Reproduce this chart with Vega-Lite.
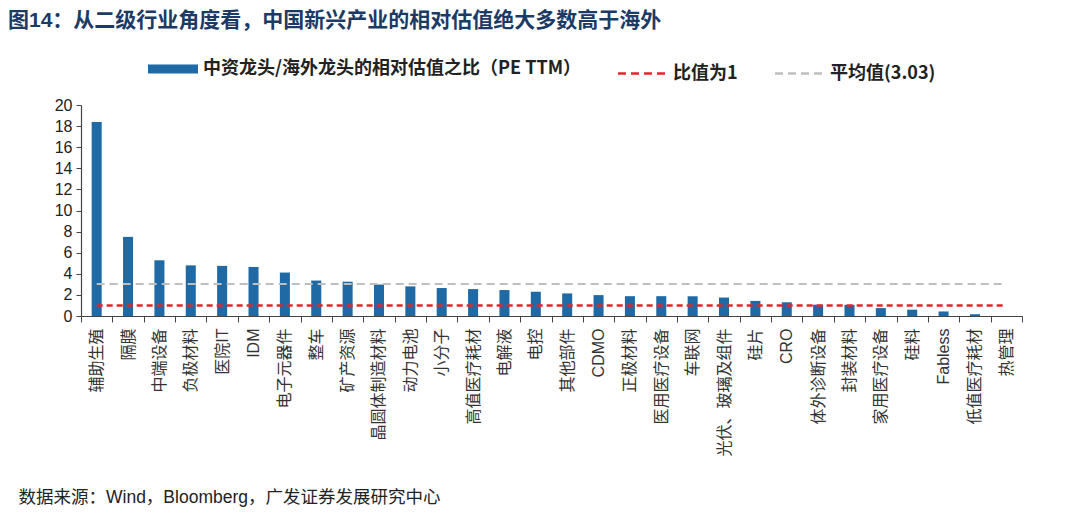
{
  "$schema": "https://vega.github.io/schema/vega-lite/v6.json",
  "width": 941,
  "height": 211,
  "autosize": {"type": "none"},
  "padding": {"left": 81, "top": 105, "right": 58, "bottom": 197},
  "background": "white",
  "config": {
    "view": {"stroke": null},
    "font": "Liberation Sans, Noto Sans CJK SC"
  },
  "title": {
    "text": "图14：从二级行业角度看，中国新兴产业的相对估值绝大多数高于海外",
    "anchor": "start",
    "frame": "group",
    "dx": -73,
    "offset": 29,
    "font": "Liberation Sans, Noto Sans CJK SC",
    "fontSize": 21,
    "fontWeight": "bold",
    "color": "#1b3a66"
  },
  "data": {
    "values": [
      {"cat": "辅助生殖", "v": 18.4},
      {"cat": "隔膜", "v": 7.5},
      {"cat": "中端设备", "v": 5.28},
      {"cat": "负极材料", "v": 4.8},
      {"cat": "医院IT", "v": 4.75},
      {"cat": "IDM", "v": 4.65},
      {"cat": "电子元器件", "v": 4.12},
      {"cat": "整车", "v": 3.36},
      {"cat": "矿产资源", "v": 3.25},
      {"cat": "晶圆体制造材料", "v": 2.98},
      {"cat": "动力电池", "v": 2.81},
      {"cat": "小分子", "v": 2.65},
      {"cat": "高值医疗耗材", "v": 2.55},
      {"cat": "电解液", "v": 2.46},
      {"cat": "电控", "v": 2.3},
      {"cat": "其他部件", "v": 2.14},
      {"cat": "CDMO", "v": 1.98},
      {"cat": "正极材料", "v": 1.88},
      {"cat": "医用医疗设备", "v": 1.88},
      {"cat": "车联网", "v": 1.87},
      {"cat": "光伏、玻璃及组件", "v": 1.75},
      {"cat": "硅片", "v": 1.43},
      {"cat": "CRO", "v": 1.3},
      {"cat": "体外诊断设备", "v": 1.07},
      {"cat": "封装材料", "v": 1.06},
      {"cat": "家用医疗设备", "v": 0.75},
      {"cat": "硅料", "v": 0.6},
      {"cat": "Fabless", "v": 0.43},
      {"cat": "低值医疗耗材", "v": 0.17},
      {"cat": "热管理", "v": 0}
    ]
  },
  "encoding": {
    "x": {
      "field": "cat",
      "type": "nominal",
      "sort": null,
      "scale": {"paddingInner": 0, "paddingOuter": 0},
      "axis": {
        "title": "数据来源：Wind，Bloomberg，广发证券发展研究中心",
        "titleAnchor": "start",
        "titleX": -63,
        "titleY": 181,
        "titleBaseline": "middle",
        "titleFont": "Liberation Sans, Noto Sans CJK SC",
        "titleFontSize": 17.5,
        "titleFontWeight": "normal",
        "titleColor": "#222",
        "labelAngle": -90,
        "labelFontSize": 16,
        "labelColor": "#333",
        "labelPadding": 6,
        "labelOverlap": false,
        "labelLimit": 200,
        "tickBand": "extent",
        "tickSize": 6,
        "tickColor": "#444",
        "domainColor": "#444",
        "domainWidth": 1.2
      }
    },
    "y": {
      "type": "quantitative",
      "scale": {"domain": [0, 20], "nice": false},
      "axis": {
        "title": null,
        "tickCount": 10,
        "labelOverlap": false,
        "grid": false,
        "labelFontSize": 16,
        "labelColor": "#222",
        "tickSize": 5,
        "tickColor": "#444",
        "domainColor": "#444",
        "domainWidth": 1.2,
        "labelPadding": 4
      }
    }
  },
  "layer": [
    {
      "mark": {"type": "bar", "width": {"band": 0.32}},
      "encoding": {
        "y": {"field": "v", "type": "quantitative"},
        "color": {
          "datum": "中资龙头/海外龙头的相对估值之比（PE TTM）",
          "type": "nominal",
          "scale": {
            "domain": ["中资龙头/海外龙头的相对估值之比（PE TTM）", "比值为1", "平均值(3.03)"],
            "range": ["#1f6aa5", "#e3262b", "#bfbfbf"]
          },
          "legend": {
            "orient": "none",
            "legendX": 83,
            "legendY": -45,
            "direction": "horizontal",
            "title": null,
            "symbolType": "stroke",
            "symbolSize": 2500,
            "symbolStrokeWidth": 3,
            "columnPadding": 32,
            "labelFont": "Noto Sans CJK SC",
            "labelFontSize": 18,
            "labelFontWeight": "bold",
            "labelColor": "#222",
            "labelOffset": 21,
            "labelLimit": 500,
            "encode": {
              "symbols": {
                "update": {
                  "stroke": {"scale": "color", "field": "value"},
                  "strokeDash": {"signal": "datum.value === '中资龙头/海外龙头的相对估值之比（PE TTM）' ? [] : [8, 5]"},
                  "strokeWidth": {"signal": "datum.value === '中资龙头/海外龙头的相对估值之比（PE TTM）' ? 9 : 2.5"}
                }
              }
            }
          }
        }
      }
    },
    {
      "mark": {"type": "line", "strokeDash": [6, 4], "strokeWidth": 2.5},
      "encoding": {
        "y": {"datum": 1, "type": "quantitative"},
        "color": {"datum": "比值为1", "type": "nominal"}
      }
    },
    {
      "mark": {"type": "line", "strokeDash": [8, 5], "strokeWidth": 2},
      "encoding": {
        "y": {"datum": 3.03, "type": "quantitative"},
        "color": {"datum": "平均值(3.03)", "type": "nominal"}
      }
    }
  ]
}
